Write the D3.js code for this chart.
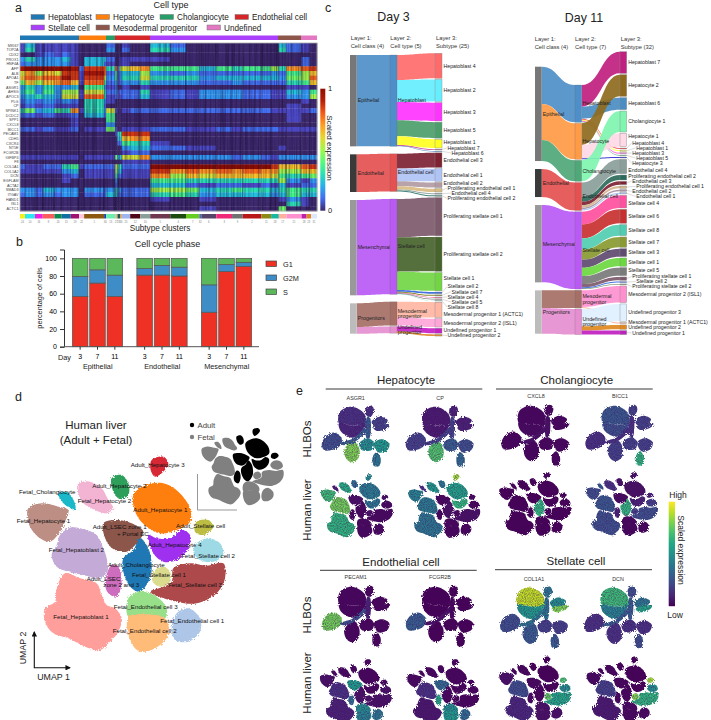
<!DOCTYPE html>
<html>
<head>
<meta charset="utf-8">
<style>
  body { margin: 0; background: #fff; }
  svg { display: block; font-family: "Liberation Sans", Arial, sans-serif; fill: #222; }
</style>
</head>
<body>
<svg width="711" height="720"></svg>
<script src="https://cdn.jsdelivr.net/npm/d3@7"></script>
<script>

// ---- panel a data
var cellTypes = ["Hepatoblast", "Hepatocyte", "Cholangiocyte", "Endothelial cell", "Stellate cell", "Mesodermal progenitor", "Undefined"];
var cellTypeColors = ["#1f77b4", "#ff7f0e", "#279e68", "#d62728", "#aa40fc", "#8c564b", "#e377c2"];
var cellTypeCells = [59, 27, 9, 35, 128, 23, 16];

var genes = ["MKI67", "TOP2A", "CDX2", "PROX1", "HNF4A", "AFP", "ALB", "APOA1", "TF", "ASGR1", "AHSG", "APOC3", "PLG", "CP", "SPINK1", "DCDC2", "SPP1", "CXCL8", "BICC1", "PECAM1", "CDH5", "CXCR4", "NT5E", "FCGR2B", "IGFBP4", "F8", "COL1A1", "COL1A2", "DCN", "EGFLAM", "ACTA2", "SMAD3", "ITGAV", "HAND1", "ISL1", "ACTC1"];

// cells per heatmap column
var heatCells = [5, 10, 7.7, 11.7, 7.3, 9, 8.3, 5, 20, 2, 9, 2.3, 2, 2.3, 8.4, 10, 10, 20, 15.7, 13.3, 17, 15.7, 10.7, 18.6, 9.7, 7.7, 7.7, 15, 8.3, 7.4];

// one row per gene, one hex digit per column, 0 = 0 and f = 1
var heatRows = [
  "14111 11000 20001 00420 00000 04210",
  "15111 11000 30002 00530 00000 05210",
  "00121 21000 00000 00000 00000 00000",
  "35333 41044 20011 11100 00000 00020",
  "23333 31042 10011 00000 00000 00020",
  "effff fe2dc 5c289 ab666 46566 85bcd",
  "9b8a9 dd1ec 26134 48323 22222 3268a",
  "acbcc ed1d9 36135 59555 34444 4378c",
  "7a8ab ca1c6 24123 35333 22322 2256a",
  "35353 34063 12001 01000 00000 00110",
  "46363 88195 23122 25121 33322 11436",
  "34543 991c5 12112 24121 33322 11338",
  "23232 32053 10000 00000 00000 00010",
  "12121 11052 00000 00000 00000 00100",
  "57346 5b153 91001 22222 22222 11112",
  "22121 12042 60000 00000 00000 00100",
  "00000 01000 60000 00000 00000 00100",
  "00000 01000 30000 00000 00000 00000",
  "22121 12011 71001 11221 12122 21111",
  "00000 00000 0155d dd000 00000 00000",
  "00000 00000 0044a bb000 00000 00000",
  "00000 00000 00226 55100 00000 00000",
  "00000 00000 00003 44221 10000 01000",
  "00000 00000 00001 22000 00000 00000",
  "11111 11011 17349 9b333 33232 13333",
  "00000 00000 00001 11000 00000 00000",
  "21122 56122 29552 22fff fffff daacd",
  "11111 34011 18441 11dbc bcbcb b88aa",
  "00000 12011 16221 11b8a 9aaaa 96567",
  "00000 10000 03000 00665 55555 58313",
  "00000 00000 02000 00442 12212 14122",
  "33243 33032 35332 22887 45655 45655",
  "23232 33022 45222 22565 34444 34644",
  "00000 00000 00000 00100 10000 01310",
  "00000 00000 00000 00000 00000 00510",
  "00000 00000 00000 00000 10000 07000"
];

var clusterIds = ["24", "14", "16", "8", "20", "15", "19", "22", "1", "30", "13", "27", "29", "26", "25", "12", "10", "5", "4", "7", "32", "6", "3", "9", "2", "11", "18", "17", "21", "28", "23", "31"];
var clusterColors = ["#f5f01d", "#2ee6f0", "#f020e0", "#f85c5c", "#0e8a50", "#0e6fa0", "#a01070", "#ffc8d8", "#8b5a10", "#2040b0", "#6cf0b0", "#d9b98a", "#1c5a50", "#d99a4a", "#a0b4f0", "#500818", "#8a9e9a", "#70384e", "#1e4a10", "#66cc20", "#4468c8", "#554468", "#f02878", "#707070", "#b81818", "#8a8a14", "#18b8a0", "#ffb0a0", "#ff90d0", "#c020b0", "#e08820", "#dce8ff"];
var clusterCells = [5, 10, 7.7, 11.7, 7.3, 9, 8.3, 5, 20, 2, 9, 2.3, 2.7, 1.6, 8.4, 10, 10, 20, 15.7, 13.3, 2, 15, 15.7, 10.7, 18.6, 9.7, 7.7, 7.7, 15, 5, 4.4, 6];

// ---- panel b data
var phaseGroups = ["Epithelial", "Endothelial", "Mesenchymal"];
var phaseDays = ["3", "7", "11"];
var phaseNames = ["G1", "G2M", "S"];
var phaseColors = ["#ee3124", "#3f8dc6", "#5bb85b"];
var phaseG1 = [57, 72, 57, 81, 81, 80, 39, 85, 91];
var phaseG2M = [22.5, 15, 24, 7.5, 11, 10, 31, 8, 4.5];
var phaseS = [20.5, 13, 19, 11.5, 8, 10, 30, 7, 4.5];

// ---- panel c data
var classNames = ["Epithelial", "Endothelial", "Mesenchymal", "Progenitors"];
var classColors = ["#777777", "#3a3a3a", "#999999", "#bcbcbc"];

var day3Types = ["Hepatoblast", "Endothelial cell", "Stellate cell", "Mesodermal progenitor", "Undefined progenitor"];
var day3TypeClass = [0, 1, 2, 3, 3];
var day3TypeColors = ["#4f8fc9", "#e55050", "#b95af5", "#a66f66", "#e58fd0"];
var day3Names = ["Hepatoblast 4", "Hepatoblast 2", "Hepatoblast 3", "Hepatoblast 5", "Hepatoblast 1", "Hepatoblast 7", "Hepatoblast 6", "Endothelial cell 3", "Endothelial cell 1", "Endothelial cell 2", "Proliferating endothelial cell 1", "Endothelial cell 4", "Proliferating endothelial cell 2", "Proliferating stellate cell 1", "Proliferating stellate cell 2", "Stellate cell 1", "Stellate cell 2", "Stellate cell 7", "Stellate cell 4", "Stellate cell 5", "Stellate cell 8", "Mesodermal progenitor 1 (ACTC1)", "Mesodermal progenitor 2 (ISL1)", "Undefined progenitor 1", "Undefined progenitor 2"];
var day3Sizes = [75, 66, 55, 48, 26, 2, 2, 44, 38, 15, 10, 3, 3, 115, 103, 55, 5, 3, 2, 2, 1, 46, 25, 15, 5];
var day3SubTypes = [0, 0, 0, 0, 0, 0, 0, 1, 1, 1, 1, 1, 1, 2, 2, 2, 2, 2, 2, 2, 2, 3, 3, 4, 4];
var day3Colors = ["#ff6b6b", "#66eeff", "#ff33ff", "#4c9e6b", "#ffff22", "#c2207f", "#3f7fbf", "#7e2233", "#afc3f5", "#b39ba3", "#d9bc82", "#8aa0a0", "#2e7a6a", "#7d5a6b", "#47632c", "#72d644", "#3366dd", "#808020", "#f0408f", "#808080", "#50d0b0", "#ffb6a3", "#ffa6d9", "#c71fc7", "#e08a2b"];

var day11Types = ["Hepatoblast", "Hepatocyte", "Cholangiocyte", "Endothelial cell", "Stellate cell", "Mesodermal progenitor", "Undefined progenitor"];
var day11TypeClass = [0, 0, 0, 1, 2, 3, 3];
var day11TypeColors = ["#4f8fc9", "#ff9a45", "#4fa878", "#e55050", "#b95af5", "#a66f66", "#e58fd0"];
var day11Names = ["Hepatoblast 7", "Hepatocyte 2", "Hepatoblast 6", "Cholangiocyte 1", "Hepatocyte 1", "Hepatoblast 4", "Hepatoblast 1", "Hepatoblast 3", "Hepatoblast 5", "Hepatocyte 3", "Endothelial cell 4", "Proliferating endothelial cell 2", "Endothelial cell 3", "Proliferating endothelial cell 1", "Endothelial cell 2", "Endothelial cell 1", "Stellate cell 4", "Stellate cell 6", "Stellate cell 8", "Stellate cell 7", "Stellate cell 3", "Stellate cell 1", "Stellate cell 5", "Proliferating stellate cell 1", "Stellate cell 2", "Proliferating stellate cell 2", "Mesodermal progenitor 2 (ISL1)", "Undefined progenitor 3", "Mesodermal progenitor 1 (ACTC1)", "Undefined progenitor 2", "Undefined progenitor 1"];
var day11Sizes = [65, 65, 36, 63, 40, 3, 3, 3, 2, 3, 43, 15, 10, 7, 5, 4, 38, 42, 33, 31, 24, 25, 24, 10, 3, 2, 50, 52, 3, 13, 12];
var day11SubTypes = [0, 1, 0, 2, 1, 0, 0, 0, 0, 1, 3, 3, 3, 3, 3, 3, 4, 4, 4, 4, 4, 4, 4, 4, 4, 4, 5, 6, 5, 6, 6];
var day11Colors = ["#c0207f", "#8e6a1e", "#4a8dc2", "#7ff5b0", "#ffd9e6", "#f05050", "#ffff44", "#ff66dd", "#4c9e6b", "#3030d0", "#8a9e9a", "#2a6a5a", "#7e2233", "#d2b48c", "#a890a0", "#a8c4f0", "#ff4f9e", "#c83030", "#50cdb0", "#8a9a30", "#5f4a70", "#6cd840", "#7a7a7a", "#7d5a6b", "#3366dd", "#47632c", "#ff90d0", "#e0f0ff", "#ffb09a", "#e08820", "#c020c0"];

// ---- panel d data, outlines in UMAP units
var liverClusters = ["Fetal_Hepatoblast 1", "Fetal_Hepatoblast 2", "Fetal_Hepatocyte 1", "Fetal_Cholangiocyte", "Fetal_Hepatocyte 2", "Adult_Hepatocyte 2", "Adult_Hepatocyte 3", "Adult_Hepatocyte 1", "Adult_LSEC zone 1", "Adult_Hepatocyte 4", "Adult_Cholangiocyte", "Adult_Stellate cell", "Fetal_Stellate cell 2", "Fetal_Stellate cell 1", "Fetal_Stellate cell 3", "Adult_LSEC zone 2 and 3", "Fetal_Endothelial cell 3", "Fetal_Endothelial cell 2", "Fetal_Endothelial cell 1"];
var liverColors = ["#ff9e9a", "#c4aad6", "#bc8e84", "#1bb8c9", "#f3b3d3", "#2e9e5b", "#d62935", "#ff7f0e", "#8c564b", "#a030f0", "#1f77b4", "#bcbd42", "#9edae5", "#dbdb8d", "#ad494a", "#ce6dbd", "#98df8a", "#ffbb78", "#aec7e8"];
var liverIsAdult = [0, 0, 0, 0, 0, 1, 1, 1, 1, 1, 1, 1, 0, 0, 0, 1, 0, 0, 0];
var liverOutlines = [
  [[195,595],[240,610],[290,625],[305,660],[320,690],[345,700],[365,730],[355,770],[330,800],[300,825],[255,815],[205,790],[160,775],[135,740],[135,700],[165,680],[170,640]],
  [[210,458],[260,465],[290,480],[310,520],[320,550],[322,590],[295,610],[250,600],[205,590],[170,575],[155,540],[170,510],[180,480]],
  [[85,400],[125,385],[175,395],[205,405],[195,440],[180,470],[150,500],[120,490],[90,455],[82,425]],
  [[175,355],[200,350],[225,385],[225,405],[212,400],[190,385]],
  [[235,325],[270,320],[305,340],[325,375],[340,400],[320,415],[285,405],[250,385],[235,355]],
  [[335,310],[365,300],[385,325],[385,360],[360,372],[340,350]],
  [[455,255],[490,245],[505,265],[485,295],[465,305],[452,285]],
  [[400,360],[440,330],[490,325],[535,350],[570,400],[570,440],[530,465],[480,475],[440,455],[410,420]],
  [[310,445],[350,435],[395,445],[430,470],[410,505],[380,530],[345,525],[320,500]],
  [[445,480],[470,490],[510,490],[545,465],[570,480],[565,520],[530,555],[490,560],[460,535]],
  [[420,490],[445,520],[455,570],[450,610],[420,650],[395,640],[370,590],[370,550],[400,525]],
  [[590,440],[625,435],[640,455],[610,480],[585,470]],
  [[590,505],[625,490],[660,505],[670,540],[640,560],[600,555],[580,530]],
  [[460,590],[490,575],[510,590],[510,620],[480,635],[458,620]],
  [[520,580],[570,565],[620,572],[670,565],[675,610],[650,655],[590,685],[530,680],[450,650],[490,635],[515,620]],
  [[335,570],[355,575],[365,620],[350,665],[325,655],[315,625]],
  [[385,670],[420,650],[470,665],[500,700],[495,730],[430,720],[385,725]],
  [[385,725],[430,718],[495,730],[505,780],[465,820],[420,830],[390,795]],
  [[530,715],[565,700],[600,730],[600,770],[565,800],[525,795],[515,760]]
];

// ---- panel e data
var hlboOutlines = [
  [[150,110],[185,95],[222,115],[228,145],[205,152],[175,150],[147,145]],
  [[147,145],[175,150],[205,152],[228,145],[215,170],[190,188],[165,180],[150,165]],
  [[228,98],[245,93],[252,105],[242,125],[228,120]],
  [[245,140],[268,125],[293,135],[285,148],[255,155]],
  [[250,158],[300,148],[295,158],[262,168]],
  [[95,208],[108,183],[135,173],[155,190],[150,212],[125,225],[102,225]],
  [[163,225],[178,205],[195,200],[208,222],[205,250],[185,262],[168,250]],
  [[208,205],[235,190],[252,205],[245,225],[215,225]],
  [[252,205],[275,193],[298,205],[292,225],[265,232]],
  [[248,245],[260,232],[272,250],[268,272],[252,273]],
  [[150,205],[190,190],[235,150],[240,155],[195,200],[155,210]],
  [[232,125],[240,128],[238,190],[230,190]]
];

var featureGenes = ["ASGR1", "CP", "CXCL8", "BICC1", "PECAM1", "FCGR2B", "COL1A1", "DCN"];
var featureGroups = ["Hepatocyte", "Cholangiocyte", "Endothelial cell", "Stellate cell"];

var hlboASGR1 = [.15, .12, .15, .2, .2, .25, .8, .5, .55, .4, .3, .3];
var hlboCP = [.08, .08, .1, .1, .1, .2, .72, .3, .25, .35, .2, .2];
var hlboCXCL8 = [.02, .03, .02, .02, .02, .02, .02, .02, .02, .02, .05, .05];
var hlboBICC1 = [.28, .25, .2, .2, .2, .15, .2, .2, .2, .65, .15, .15];
var hlboPECAM1 = [.02, .02, .02, .02, .02, .78, .02, .02, .02, .02, .25, .1];
var hlboFCGR2B = [.01, .01, .01, .01, .01, .3, .01, .01, .01, .01, .05, .02];
var hlboCOL1A1 = [.9, .55, .4, .5, .8, .25, .3, .2, .2, .3, .4, .4];
var hlboDCN = [.68, .45, .25, .4, .6, .15, .15, .15, .15, .25, .3, .3];

var liverASGR1 = [.65, .78, .68, .1, .62, .35, .5, .42, .05, .4, .03, .05, .03, .05, .03, .03, .03, .03, .03];
var liverCP = [.4, .42, .45, .15, .55, .4, .85, .58, .03, .65, .05, .03, .02, .03, .05, .02, .02, .02, .02];
var liverCXCL8 = [.01, .01, .01, .01, .01, .01, .03, .01, .01, .01, .65, .01, .01, .01, .01, .01, .01, .01, .01];
var liverBICC1 = [.25, .28, .25, .3, .15, .05, .05, .05, .03, .1, .65, .1, .2, .2, .25, .1, .02, .02, .02];
var liverPECAM1 = [.1, .15, .05, .03, .03, .02, .02, .02, .55, .02, .05, .03, .05, .05, .05, .35, .5, .45, .4];
var liverFCGR2B = [.07, .15, .03, .02, .02, .02, .02, .02, .35, .02, .02, .02, .02, .02, .02, .6, .5, .55, .35];
var liverCOL1A1 = [.12, .25, .05, .02, .02, .01, .01, .01, .03, .01, .02, .7, .5, .75, .6, .03, .05, .05, .05];
var liverDCN = [.08, .2, .03, .02, .02, .01, .01, .01, .02, .01, .02, .85, .5, .8, .65, .02, .03, .03, .03];

var hlboValues = [hlboASGR1, hlboCP, hlboCXCL8, hlboBICC1, hlboPECAM1, hlboFCGR2B, hlboCOL1A1, hlboDCN];
var liverValues = [liverASGR1, liverCP, liverCXCL8, liverBICC1, liverPECAM1, liverFCGR2B, liverCOL1A1, liverDCN];

// ---- drawing
var svg = d3.select("svg");
var defs = svg.append("defs");

// grainy edge for the scatter clouds
var rough = defs.append("filter").attr("id", "rough").attr("x", "-5%").attr("y", "-5%").attr("width", "110%").attr("height", "110%")
  .attr("color-interpolation-filters", "sRGB");
rough.append("feTurbulence").attr("type", "fractalNoise").attr("baseFrequency", 0.7).attr("numOctaves", 2).attr("seed", 4).attr("result", "n");
rough.append("feDisplacementMap").attr("in", "SourceGraphic").attr("in2", "n").attr("scale", 4);

// same, plus soft dark speckle for low expressing cells in the feature maps
var speckle = defs.append("filter").attr("id", "speckle").attr("x", "-5%").attr("y", "-5%").attr("width", "110%").attr("height", "110%")
  .attr("color-interpolation-filters", "sRGB");
speckle.append("feTurbulence").attr("type", "fractalNoise").attr("baseFrequency", 0.9).attr("numOctaves", 2).attr("seed", 9).attr("result", "n");
speckle.append("feDisplacementMap").attr("in", "SourceGraphic").attr("in2", "n").attr("scale", 3.5).attr("result", "moved");
speckle.append("feColorMatrix").attr("in", "n").attr("type", "matrix")
  .attr("values", "0 0 0 0 0.27  0 0 0 0 0.02  0 0 0 0 0.36  1.1 0 0 0 -0.4").attr("result", "dots");
speckle.append("feComposite").attr("in", "dots").attr("in2", "moved").attr("operator", "in").attr("result", "inside");
var speckleMerge = speckle.append("feMerge");
speckleMerge.append("feMergeNode").attr("in", "moved");
speckleMerge.append("feMergeNode").attr("in", "inside");

// vertical streaks across the heatmap columns
var streaks = defs.append("filter").attr("id", "streaks").attr("x", 0).attr("y", 0).attr("width", "100%").attr("height", "100%")
  .attr("color-interpolation-filters", "sRGB");
streaks.append("feTurbulence").attr("type", "fractalNoise").attr("baseFrequency", "0.55 0.012").attr("numOctaves", 2).attr("seed", 2);
streaks.append("feColorMatrix").attr("type", "matrix")
  .attr("values", "0 0 0 0 0.1  0 0 0 0 0.04  0 0 0 0 0.2  1.1 0 0 0 -0.4");

function addText(parent, x, y, str, size, anchor) {
  return parent.append("text").attr("x", x).attr("y", y).attr("font-size", size)
    .attr("text-anchor", anchor || "start").text(str);
}
function addVertical(parent, x, y, str, size, angle) {
  return parent.append("text").attr("transform", "translate(" + x + "," + y + ") rotate(" + angle + ")")
    .attr("font-size", size).attr("text-anchor", "middle").text(str);
}
function gradient(id, interp) {
  var g = defs.append("linearGradient").attr("id", id).attr("x1", 0).attr("x2", 0).attr("y1", 1).attr("y2", 0);
  d3.range(0, 1.001, 0.1).forEach(function(t) {
    g.append("stop").attr("offset", t).attr("stop-color", interp(t));
  });
}

[["a", 15, 11.5], ["b", 16, 246], ["c", 325, 11.5], ["d", 15, 401], ["e", 296, 395]].forEach(function(p) {
  addText(svg, p[1], p[2], p[0], 12.5);
});

// a: legend, heatmap
var heatColor = function(t) { return d3.interpolateTurbo(0.03 + t * 0.97); };
var a = svg.append("g");
addText(a, 171, 8, "Cell type", 9, "middle");

var legendCols = [[31, 96, 160, 235], [31, 96, 207]];
var legendOrder = [[0, 1, 2, 3], [4, 5, 6]];
legendOrder.forEach(function(row, r) {
  row.forEach(function(k, i) {
    var lx = legendCols[r][i], ly = 14.5 + r * 10.5;
    a.append("rect").attr("x", lx).attr("y", ly).attr("width", 13.5).attr("height", 5)
      .attr("fill", cellTypeColors[k]).attr("stroke", "#777").attr("stroke-width", 0.5);
    addText(a, lx + 17, ly + 5.5, cellTypes[k], 8.2);
  });
});

var heatX = d3.scaleLinear().domain([0, d3.sum(heatCells)]).range([20, 317]);
var heatY = d3.scaleBand().domain(genes).range([43, 211]);
var heatValue = d3.scalePow().exponent(1.1).domain([0, 15]).range([0, 1]);

var typeEdges = d3.cumsum([0].concat(cellTypeCells));
var typeX = d3.scaleLinear().domain([0, d3.sum(cellTypeCells)]).range([20, 317]);
a.selectAll("rect.ctype").data(cellTypeCells).enter().append("rect").attr("class", "ctype")
  .attr("x", function(d, i) { return typeX(typeEdges[i]); })
  .attr("width", function(d) { return typeX(d) - typeX(0); })
  .attr("y", 35.5).attr("height", 4.5)
  .attr("fill", function(d, i) { return cellTypeColors[i]; });

var colEdges = d3.cumsum([0].concat(heatCells));
heatRows.forEach(function(row, r) {
  var digits = row.replace(/ /g, "").split("");
  a.append("g").selectAll("rect").data(digits).enter().append("rect")
    .attr("x", function(d, i) { return heatX(colEdges[i]); })
    .attr("width", function(d, i) { return heatX(heatCells[i]) - heatX(0) + 0.3; })
    .attr("y", heatY(genes[r]))
    .attr("height", heatY.bandwidth() + 0.3)
    .attr("fill", function(d) { return heatColor(heatValue(parseInt(d, 16))); });
});
a.append("rect").attr("x", 20).attr("y", 43).attr("width", 297).attr("height", 168)
  .attr("fill", "#000").attr("filter", "url(#streaks)");
a.selectAll("line.sep").data(colEdges.slice(1, -1)).enter().append("line").attr("class", "sep")
  .attr("x1", heatX).attr("x2", heatX).attr("y1", 43).attr("y2", 211)
  .attr("stroke", "#14082a").attr("stroke-opacity", 0.55).attr("stroke-width", 0.6);
a.append("rect").attr("x", 20).attr("y", 43).attr("width", 297).attr("height", 168)
  .attr("fill", "none").attr("stroke", "#aaa").attr("stroke-width", 0.8);
genes.forEach(function(g) {
  addText(a, 18.5, heatY(g) + heatY.bandwidth() / 2 + 1.3, g, 3.7, "end").attr("fill", "#444");
});

var clusterEdges = d3.cumsum([0].concat(clusterCells));
var clusterX = d3.scaleLinear().domain([0, d3.sum(clusterCells)]).range([20, 317]);
a.selectAll("rect.cluster").data(clusterCells).enter().append("rect").attr("class", "cluster")
  .attr("x", function(d, i) { return clusterX(clusterEdges[i]); })
  .attr("width", function(d) { return clusterX(d) - clusterX(0); })
  .attr("y", 214).attr("height", 4.5)
  .attr("fill", function(d, i) { return clusterColors[i]; });
clusterIds.forEach(function(id, i) {
  addText(a, clusterX(clusterEdges[i] + clusterCells[i] / 2), 222.5, id, 2.6, "middle").attr("fill", "#777");
});
addText(a, 160, 231, "Subtype clusters", 8.2, "middle");

gradient("turboBar", heatColor);
a.append("rect").attr("x", 320.3).attr("y", 88.7).attr("width", 5).attr("height", 122).attr("fill", "url(#turboBar)");
addText(a, 328, 91, "1", 7.5);
addText(a, 328, 213, "0", 7.5);
addVertical(a, 326.5, 148, "Scaled expression", 8, 90);

// b: stacked bars
var b = svg.append("g");
addText(b, 167.5, 247, "Cell cycle phase", 9, "middle");
var barY = d3.scaleLinear().domain([0, 110]).range([346.7, 249.5]);
var groupX = d3.scaleBand().domain(phaseGroups).range([65, 258.5]);
var dayX = d3.scaleBand().domain(phaseDays).range([7, 58]).paddingInner(0.1).paddingOuter(0.02);

var stacks = phaseG1.map(function(g1, i) { return {G1: g1, G2M: phaseG2M[i], S: phaseS[i]}; });
var stacked = d3.stack().keys(phaseNames)(stacks);
stacked.forEach(function(layer, k) {
  b.append("g").selectAll("rect").data(layer).enter().append("rect")
    .attr("x", function(d, i) {
      return groupX(phaseGroups[Math.floor(i / 3)]) + dayX(phaseDays[i % 3]);
    })
    .attr("width", dayX.bandwidth())
    .attr("y", function(d) { return barY(d[1]); })
    .attr("height", function(d) { return barY(d[0]) - barY(d[1]); })
    .attr("fill", phaseColors[k]).attr("stroke", "#555").attr("stroke-width", 0.7);
});

var barAxis = b.append("g").attr("transform", "translate(64,0)")
  .call(d3.axisLeft(barY).tickValues(d3.range(0, 101, 20)).tickSize(4));
barAxis.selectAll("text").attr("font-size", 7).attr("font-family", null);
barAxis.selectAll("path,line").attr("stroke", "#333").attr("stroke-width", 1);
b.append("line").attr("x1", 64).attr("x2", 259).attr("y1", barY(0)).attr("y2", barY(0))
  .attr("stroke", "#555").attr("stroke-width", 1);
phaseGroups.forEach(function(group) {
  var ax = b.append("g").attr("transform", "translate(" + groupX(group) + "," + barY(0) + ")")
    .call(d3.axisBottom(dayX).tickSize(3).tickPadding(4));
  ax.select(".domain").remove();
  ax.selectAll("text").attr("font-size", 7).attr("font-family", null);
  ax.selectAll("line").attr("stroke", "#333");
  addText(b, groupX(group) + groupX.bandwidth() / 2 + 0.5, 368.5, group, 7.3, "middle");
});
addText(b, 58, 359.5, "Day", 7.3);
addVertical(b, 42, 298, "percentage of cells", 7.3, -90);
phaseNames.forEach(function(name, i) {
  var ly = 261 + i * 14;
  b.append("rect").attr("x", 266).attr("y", ly).attr("width", 10.5).attr("height", 5.5)
    .attr("fill", phaseColors[i]).attr("stroke", "#444").attr("stroke-width", 0.7);
  addText(b, 283, ly + 5.8, name, 7.3);
});

// c: sankeys
var ribbon = d3.area().curve(d3.curveBumpX)
  .x(function(d) { return d.x; }).y0(function(d) { return d.y0; }).y1(function(d) { return d.y1; });
var sankeySize = d3.scaleLinear().domain([0, 855]).range([0, 285]);

function drawSankey(o) {
  var g = svg.append("g");
  addText(g, o.titleX, o.titleY, o.title, 12.4, "middle");
  o.heads.forEach(function(h, i) {
    addText(g, o.headX[i], o.titleY + 19, h[0], 5.8).attr("fill", "#333");
    addText(g, o.headX[i], o.titleY + 27, h[1], 5.8).attr("fill", "#333");
  });

  // layer 3 stack
  var y3 = o.top3;
  var subs = o.sizes.map(function(s, i) {
    var h = sankeySize(s);
    var n = {name: o.names[i], h: h, y: y3, type: o.subTypes[i], color: o.colors[i]};
    y3 += h + o.gap3;
    return n;
  });

  // layer 2 stack, gap depends on whether the class changes
  var y2 = o.top2;
  var types = o.types.map(function(name, i) {
    var h = d3.sum(subs.filter(function(s) { return s.type == i; }), function(s) { return s.h; });
    if (i > 0) y2 += o.typeClass[i] == o.typeClass[i - 1] ? o.gap2 : o.classGap2;
    var n = {name: name, h: h, y: y2, color: o.typeColors[i], cls: o.typeClass[i]};
    y2 += h;
    return n;
  });

  // layer 1 stack
  var y1 = o.top1;
  var classes = classNames.map(function(name, c) {
    var h = d3.sum(types.filter(function(t) { return t.cls == c; }), function(t) { return t.h; });
    var n = {name: name, h: h, y: y1, color: classColors[c]};
    y1 += h + o.gap1;
    return n;
  });

  // flows layer 1 to layer 2
  classes.forEach(function(c, ci) {
    var off = c.y;
    types.forEach(function(t) {
      if (t.cls != ci) return;
      g.append("path").attr("fill", t.color).attr("fill-opacity", 0.92)
        .attr("d", ribbon([{x: o.x[0][1], y0: off, y1: off + t.h}, {x: o.x[1][0], y0: t.y, y1: t.y + t.h}]));
      off += t.h;
    });
  });

  // flows layer 2 to layer 3
  types.forEach(function(t, ti) {
    var off = t.y;
    subs.forEach(function(s) {
      if (s.type != ti) return;
      g.append("path").attr("fill", s.color).attr("fill-opacity", 0.92)
        .attr("d", ribbon([{x: o.x[1][1], y0: off, y1: off + s.h}, {x: o.x[2][0], y0: s.y, y1: s.y + s.h}]));
      off += s.h;
    });
  });

  // node bars
  classes.forEach(function(c) {
    g.append("rect").attr("x", o.x[0][0]).attr("width", o.x[0][1] - o.x[0][0]).attr("y", c.y).attr("height", c.h).attr("fill", c.color);
    addText(g, o.x[0][1] + 1, c.y + c.h / 2 + 1.8, c.name, 5.3).attr("fill", "#222");
  });
  types.forEach(function(t) {
    g.append("rect").attr("x", o.x[1][0]).attr("width", o.x[1][1] - o.x[1][0]).attr("y", t.y).attr("height", t.h)
      .attr("fill", t.color).attr("stroke", "#666").attr("stroke-opacity", 0.6).attr("stroke-width", 0.4);
  });
  types.forEach(function(t) {
    var words = t.name.match(/progenitor/) ? t.name.split(" ") : [t.name];
    words.forEach(function(w, i) {
      addText(g, o.x[1][1] + 0.7, t.y + t.h / 2 + 1.8 + (i - (words.length - 1) / 2) * 5.4, w, 5.3).attr("fill", "#222");
    });
  });
  subs.forEach(function(s) {
    g.append("rect").attr("x", o.x[2][0]).attr("width", o.x[2][1] - o.x[2][0]).attr("y", s.y).attr("height", s.h)
      .attr("fill", s.color).attr("stroke", "#888").attr("stroke-width", 0.4);
  });

  // labels pushed apart where nodes are too thin
  var minGap = 5.1;
  var down = [], up = [];
  subs.forEach(function(s, i) {
    var c = s.y + s.h / 2;
    down[i] = i ? Math.max(c, down[i - 1] + minGap) : c;
  });
  for (var i = subs.length - 1; i >= 0; i--) {
    var c = subs[i].y + subs[i].h / 2;
    up[i] = i < subs.length - 1 ? Math.min(c, up[i + 1] - minGap) : c;
  }
  var thinCount = 0;
  subs.forEach(function(s, i) {
    var ly = (down[i] + up[i]) / 2;
    var indent = 0;
    if (s.h < 4.2 && s.name.indexOf("(") < 0) { thinCount++; indent = thinCount % 2 ? 4 : 8; } else { thinCount = 0; }
    var lx = o.x[2][1] + 1.5 + indent;
    if (indent) {
      g.append("line").attr("x1", o.x[2][1]).attr("y1", s.y + s.h / 2).attr("x2", lx - 0.5).attr("y2", ly)
        .attr("stroke", "#999").attr("stroke-width", 0.35);
    }
    addText(g, lx, ly + 1.8, s.name, 5.2).attr("fill", "#222");
  });
}

drawSankey({
  title: "Day 3", titleX: 393.5, titleY: 20.7,
  heads: [["Layer 1:", "Cell class (4)"], ["Layer 2:", "Cell type (5)"], ["Layer 3:", "Subtype (25)"]],
  headX: [350.7, 390.3, 436],
  x: [[350, 356.7], [390, 397], [435, 442]],
  top1: 55, top2: 55, top3: 53.3, gap1: 8, gap2: 1, classGap2: 7.5, gap3: 1.17,
  names: day3Names, sizes: day3Sizes, subTypes: day3SubTypes, colors: day3Colors,
  types: day3Types, typeClass: day3TypeClass, typeColors: day3TypeColors
});
drawSankey({
  title: "Day 11", titleX: 584, titleY: 21.5,
  heads: [["Layer 1:", "Cell class (4)"], ["Layer 2:", "Cell type (7)"], ["Layer 3:", "Subtype (32)"]],
  headX: [534.7, 575, 620.7],
  x: [[535, 541.7], [575, 581.7], [620, 626.7]],
  top1: 66.7, top2: 85, top3: 51.7, gap1: 8, gap2: 1, classGap2: 1.2, gap3: 1.33,
  names: day11Names, sizes: day11Sizes, subTypes: day11SubTypes, colors: day11Colors,
  types: day11Types, typeClass: day11TypeClass, typeColors: day11TypeColors
});

// d: UMAP
var blob = d3.line().curve(d3.curveCatmullRomClosed.alpha(0.5));
function scaledBlob(pts, sx, sy) {
  return blob(pts.map(function(p) { return [sx(p[0]), sy(p[1])]; }));
}
var d = svg.append("g");
addText(d, 96, 429, "Human liver", 11.5, "middle");
addText(d, 96, 444, "(Adult + Fetal)", 11.5, "middle");

var umapX = d3.scaleLinear().domain([0, 870]).range([0, 290]);
var umapY = d3.scaleLinear().domain([0, 1035]).range([375, 720]);
d.append("g").attr("filter", "url(#rough)").selectAll("path").data(liverOutlines).enter().append("path")
  .attr("d", function(o) { return scaledBlob(o, umapX, umapY); })
  .attr("fill", function(o, i) { return liverColors[i]; });

var umapLabels = [
  ["Adult_Hepatocyte 3", 392, 275], ["Adult_Hepatocyte 2", 277, 338], ["Fetal_Cholangiocyte", 57, 358],
  ["Fetal_Hepatocyte 2", 233, 385], ["Adult_Hepatocyte 1", 400, 410], ["Fetal_Hepatocyte 1", 50, 445],
  ["Adult_LSEC zone 1", 278, 463], ["+ Portal EC", 351, 483], ["Adult_Stellate cell", 528, 458],
  ["Adult_Hepatocyte 4", 443, 515], ["Fetal_Hepatoblast 2", 146, 532], ["Fetal_Stellate cell 2", 543, 548],
  ["Adult_Cholangiocyte", 324, 575], ["Fetal_Stellate cell 1", 396, 606], ["Adult_LSEC", 260, 618],
  ["zone 2 and 3", 310, 637], ["Fetal_Stellate cell 3", 504, 635], ["Fetal_Endothelial cell 3", 341, 703],
  ["Fetal_Hepatoblast 1", 160, 733], ["Fetal_Endothelial cell 1", 481, 743], ["Fetal_Endothelial cell 2", 338, 775]
];
umapLabels.forEach(function(l) { addText(d, umapX(l[1]), umapY(l[2]), l[0], 6.2).attr("fill", "#111"); });

// inset
var insetX = d3.scaleLinear().domain([82, 675]).range([201.5, 283.5]);
var insetY = d3.scaleLinear().domain([245, 830]).range([428, 505]);
d.append("g").selectAll("path").data(liverOutlines).enter().append("path")
  .attr("d", function(o) { return scaledBlob(o, insetX, insetY); })
  .attr("fill", function(o, i) { return liverIsAdult[i] ? "#000" : "#808080"; });
d.append("path").attr("d", d3.line()([[197.5, 474], [197.5, 510], [237, 510]]))
  .attr("fill", "none").attr("stroke", "#999").attr("stroke-width", 1);
[["Adult", "#000"], ["Fetal", "#808080"]].forEach(function(l, i) {
  d.append("circle").attr("cx", 192).attr("cy", 425 + i * 12).attr("r", 2.2).attr("fill", l[1]);
  addText(d, 197.5, 427.5 + i * 12, l[0], 7.8).attr("fill", "#444");
});

// umap arrows
defs.append("marker").attr("id", "tip").attr("viewBox", "0 0 6 6").attr("refX", 5).attr("refY", 3)
  .attr("markerWidth", 5).attr("markerHeight", 5).attr("orient", "auto")
  .append("path").attr("d", "M0,0L6,3L0,6Z").attr("fill", "#111");
defs.append("marker").attr("id", "tipRev").attr("viewBox", "0 0 6 6").attr("refX", 1).attr("refY", 3)
  .attr("markerWidth", 5).attr("markerHeight", 5).attr("orient", "auto")
  .append("path").attr("d", "M6,0L0,3L6,6Z").attr("fill", "#111");
d.append("path").attr("d", d3.line()([[34.3, 632], [34.3, 667.7], [70, 667.7]]))
  .attr("fill", "none").attr("stroke", "#111").attr("stroke-width", 1.1)
  .attr("marker-start", "url(#tipRev)").attr("marker-end", "url(#tip)");
addVertical(d, 26, 648, "UMAP 2", 8.8, -90);
addText(d, 53.5, 680, "UMAP 1", 8.8, "middle");

// e: feature maps
var e = svg.append("g");
var hlboDomainX = [95, 300], hlboDomainY = [93, 275];
var liverDomainX = [82, 675], liverDomainY = [245, 830];

// map boxes in page pixels: left, right, top, bottom
var hlboBoxes = [[321.7, 390, 406, 466.7], [405.7, 474, 406, 466.7], [501.3, 569.3, 405, 465.7], [585.3, 653.3, 405, 465.7], [321.7, 390, 586, 646.7], [405.7, 474, 586, 646.7], [500, 568.3, 586.7, 648.3], [584, 652.3, 586.7, 648.3]];
var liverBoxes = [[321, 392.7, 474.3, 537.7], [408.3, 480, 474.3, 537.7], [499.3, 571, 472.3, 535.7], [586, 657.7, 472.3, 535.7], [320, 391.7, 659.3, 723], [407.3, 479, 659.3, 723], [499.3, 571, 656.7, 721.7], [586.7, 658.3, 656.7, 721.7]];
var geneLabelPos = [[355.7, 400], [440, 400], [536, 398], [620, 398], [355.7, 579], [440, 579], [534, 581], [618, 581]];

function drawMap(outlines, values, box, dx, dy) {
  var sx = d3.scaleLinear().domain(dx).range([box[0], box[1]]);
  var sy = d3.scaleLinear().domain(dy).range([box[2], box[3]]);
  e.append("g").attr("filter", "url(#speckle)").selectAll("path").data(outlines).enter().append("path")
    .attr("d", function(o) { return scaledBlob(o, sx, sy); })
    .attr("fill", function(o, i) { return d3.interpolateViridis(values[i]); });
}
featureGenes.forEach(function(gene, i) {
  drawMap(hlboOutlines, hlboValues[i], hlboBoxes[i], hlboDomainX, hlboDomainY);
  drawMap(liverOutlines, liverValues[i], liverBoxes[i], liverDomainX, liverDomainY);
  addText(e, geneLabelPos[i][0], geneLabelPos[i][1], gene, 5.4, "middle").attr("fill", "#333");
});

var groupHead = [[406, 384, 325.7, 482.3, 389], [576.7, 384, 496, 652.7, 389], [401, 566, 320, 476.7, 570.3], [576, 565, 495, 652, 569.7]];
featureGroups.forEach(function(name, i) {
  var h = groupHead[i];
  addText(e, h[0], h[1], name, 11.5, "middle");
  e.append("line").attr("x1", h[2]).attr("x2", h[3]).attr("y1", h[4]).attr("y2", h[4])
    .attr("stroke", "#222").attr("stroke-width", 0.9);
});
[["HLBOs", 439], ["Human liver", 510], ["HLBOs", 615], ["Human liver", 683]].forEach(function(r) {
  addVertical(e, 311, r[1], r[0], 11.5, -90);
});

gradient("viridisBar", d3.interpolateViridis);
e.append("rect").attr("x", 668.7).attr("y", 501.7).attr("width", 6.3).attr("height", 104.5).attr("fill", "url(#viridisBar)");
addText(e, 678, 498, "High", 8.5, "middle");
addText(e, 675, 618, "Low", 8.5, "middle");
addVertical(e, 678, 550, "Scaled expression", 8.5, 90);

</script>
</body>
</html>
